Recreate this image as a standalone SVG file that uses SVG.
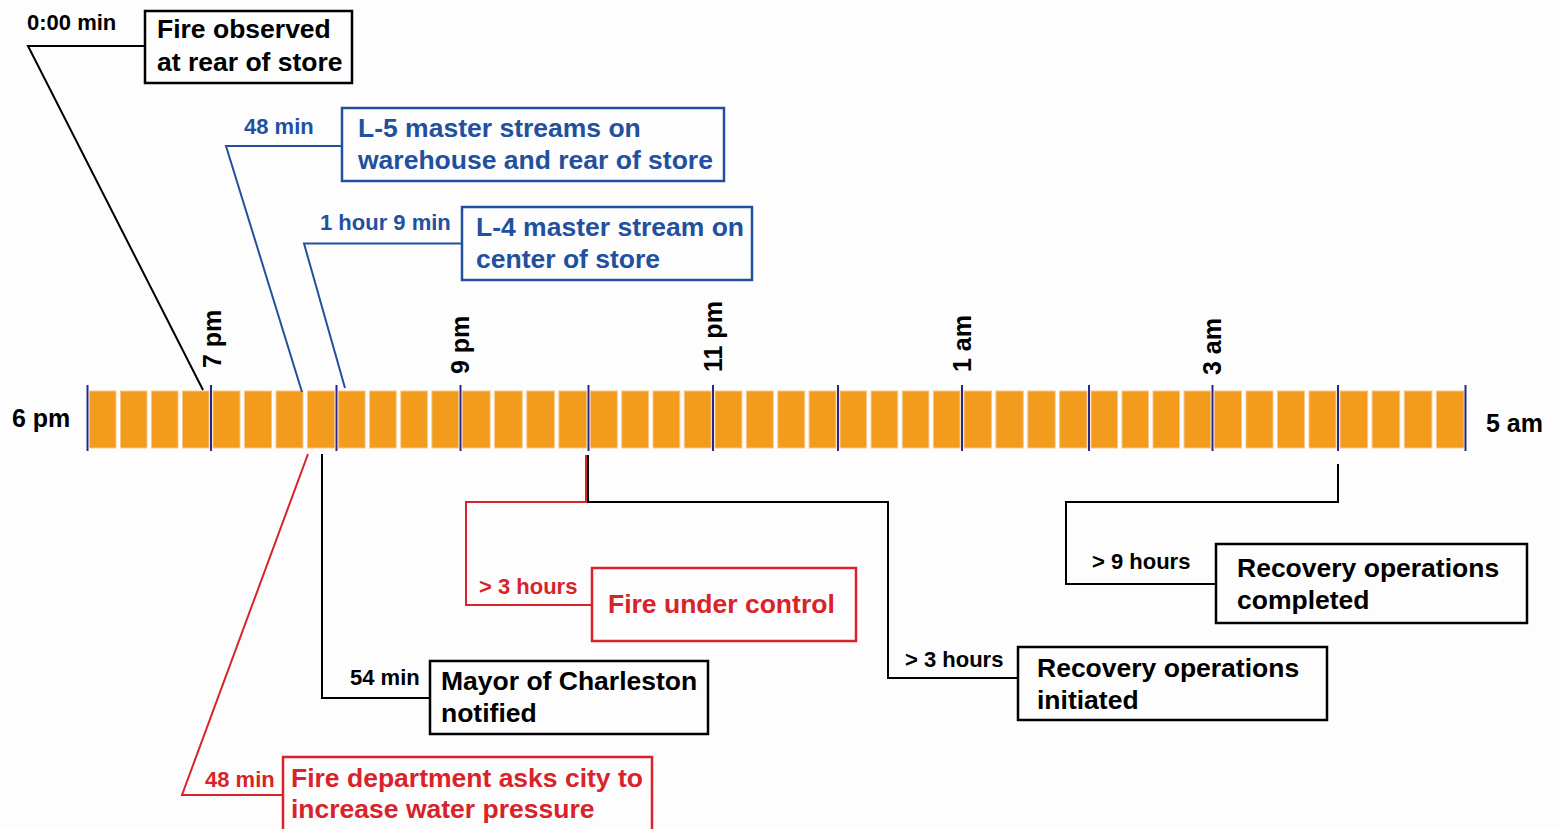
<svg xmlns="http://www.w3.org/2000/svg" width="1560" height="829" viewBox="0 0 1560 829">
<style>
.blk{fill:#f29b1c;stroke:#f7c78a;stroke-width:1}
.tick{stroke:#23288a;stroke-width:2}
.t{font-family:"Liberation Sans",Arial,sans-serif;font-weight:bold}
.big{font-size:26.5px}
.sm{font-size:22px}
.ax{font-size:25px;fill:#000}
.k{fill:#000}
.b{fill:#22509f}
.r{fill:#d8232a}
.boxk{fill:none;stroke:#000;stroke-width:2.5}
.boxb{fill:none;stroke:#22509f;stroke-width:2.5}
.boxr{fill:none;stroke:#d8232a;stroke-width:2.5}
.lk{fill:none;stroke:#000;stroke-width:2}
.lb{fill:none;stroke:#22509f;stroke-width:2}
.lr{fill:none;stroke:#d8232a;stroke-width:2}
</style>
<rect width="1560" height="829" fill="#fdfdfd"/>
<g id="timeline">
<rect class="blk" x="89.5" y="391" width="26.5" height="57"/><rect class="blk" x="120.5" y="391" width="26.5" height="57"/><rect class="blk" x="151.5" y="391" width="26.5" height="57"/><rect class="blk" x="182.5" y="391" width="26.5" height="57"/>
<rect class="blk" x="213" y="391" width="27" height="57"/><rect class="blk" x="244.5" y="391" width="27" height="57"/><rect class="blk" x="276" y="391" width="27" height="57"/><rect class="blk" x="307.5" y="391" width="27" height="57"/>
<rect class="blk" x="338.5" y="391" width="26.6" height="57"/><rect class="blk" x="369.6" y="391" width="26.6" height="57"/><rect class="blk" x="400.8" y="391" width="26.6" height="57"/><rect class="blk" x="431.9" y="391" width="26.6" height="57"/>
<rect class="blk" x="462.5" y="391" width="27.6" height="57"/><rect class="blk" x="494.6" y="391" width="27.6" height="57"/><rect class="blk" x="526.8" y="391" width="27.6" height="57"/><rect class="blk" x="558.9" y="391" width="27.6" height="57"/>
<rect class="blk" x="590.5" y="391" width="26.8" height="57"/><rect class="blk" x="621.8" y="391" width="26.8" height="57"/><rect class="blk" x="653" y="391" width="26.8" height="57"/><rect class="blk" x="684.3" y="391" width="26.8" height="57"/>
<rect class="blk" x="715" y="391" width="26.9" height="57"/><rect class="blk" x="746.4" y="391" width="26.9" height="57"/><rect class="blk" x="777.8" y="391" width="26.9" height="57"/><rect class="blk" x="809.1" y="391" width="26.9" height="57"/>
<rect class="blk" x="840" y="391" width="26.6" height="57"/><rect class="blk" x="871.1" y="391" width="26.6" height="57"/><rect class="blk" x="902.3" y="391" width="26.6" height="57"/><rect class="blk" x="933.4" y="391" width="26.6" height="57"/>
<rect class="blk" x="964" y="391" width="27.4" height="57"/><rect class="blk" x="995.9" y="391" width="27.4" height="57"/><rect class="blk" x="1027.8" y="391" width="27.4" height="57"/><rect class="blk" x="1059.6" y="391" width="27.4" height="57"/>
<rect class="blk" x="1091" y="391" width="26.5" height="57"/><rect class="blk" x="1122" y="391" width="26.5" height="57"/><rect class="blk" x="1153" y="391" width="26.5" height="57"/><rect class="blk" x="1184" y="391" width="26.5" height="57"/>
<rect class="blk" x="1214.5" y="391" width="27" height="57"/><rect class="blk" x="1246" y="391" width="27" height="57"/><rect class="blk" x="1277.5" y="391" width="27" height="57"/><rect class="blk" x="1309" y="391" width="27" height="57"/>
<rect class="blk" x="1340" y="391" width="27.6" height="57"/><rect class="blk" x="1372.1" y="391" width="27.6" height="57"/><rect class="blk" x="1404.3" y="391" width="27.6" height="57"/><rect class="blk" x="1436.4" y="391" width="27.6" height="57"/>
<g class="tick">
<line x1="87.5" y1="385" x2="87.5" y2="451"/><line x1="211" y1="385" x2="211" y2="451"/><line x1="336.5" y1="385" x2="336.5" y2="451"/><line x1="460.5" y1="385" x2="460.5" y2="451"/><line x1="588.5" y1="385" x2="588.5" y2="451"/><line x1="713" y1="385" x2="713" y2="451"/><line x1="838" y1="385" x2="838" y2="451"/><line x1="962" y1="385" x2="962" y2="451"/><line x1="1089" y1="385" x2="1089" y2="451"/><line x1="1212.5" y1="385" x2="1212.5" y2="451"/><line x1="1338" y1="385" x2="1338" y2="451"/><line x1="1465.5" y1="385" x2="1465.5" y2="451"/>
</g>
<text class="t ax" x="12" y="427">6 pm</text>
<text class="t ax" x="1486" y="432">5 am</text>
<text class="t ax" transform="translate(220.5,368) rotate(-90)">7 pm</text>
<text class="t ax" transform="translate(469,374) rotate(-90)">9 pm</text>
<text class="t ax" transform="translate(722,372) rotate(-90)">11 pm</text>
<text class="t ax" transform="translate(971,372) rotate(-90)">1 am</text>
<text class="t ax" transform="translate(1221,375) rotate(-90)">3 am</text>
</g>
<g id="connectors">
<polyline class="lk" points="203,390 28,46 145,46"/>
<polyline class="lb" points="302,392 226,146 342,146"/>
<polyline class="lb" points="345,388 304,243.5 462,243.5"/>
<polyline class="lr" points="308,454 182,795 283,795"/>
<polyline class="lk" points="322,454 322,698 430,698"/>
<polyline class="lk" points="588,455 588,502 888,502 888,678 1018,678"/>
<polyline class="lr" points="586,455 586,502 466,502 466,605 592,605"/>
<polyline class="lk" points="1338,464 1338,502 1066,502 1066,584 1215,584"/>
</g>
<g id="n-fire-observed">
<rect class="boxk" x="145" y="11" width="207" height="72"/>
<text class="t sm k" x="27" y="30">0:00 min</text>
<text class="t big k" x="157" y="38">Fire observed</text>
<text class="t big k" x="157" y="71">at rear of store</text>
</g>
<g id="n-l5">
<rect class="boxb" x="342" y="108" width="382" height="73"/>
<text class="t sm b" x="244" y="134">48 min</text>
<text class="t big b" x="358" y="137">L-5 master streams on</text>
<text class="t big b" x="358" y="169">warehouse and rear of store</text>
</g>
<g id="n-l4">
<rect class="boxb" x="462" y="207" width="290" height="73"/>
<text class="t sm b" x="320" y="230">1 hour 9 min</text>
<text class="t big b" x="476" y="236">L-4 master stream on</text>
<text class="t big b" x="476" y="268">center of store</text>
</g>
<g id="n-fire-control">
<rect class="boxr" x="592" y="568" width="264" height="73"/>
<text class="t sm r" x="479" y="594">&gt; 3 hours</text>
<text class="t big r" x="608" y="613">Fire under control</text>
</g>
<g id="n-recovery-completed">
<rect class="boxk" x="1216" y="544" width="311" height="79"/>
<text class="t sm k" x="1092" y="569">&gt; 9 hours</text>
<text class="t big k" x="1237" y="577">Recovery operations</text>
<text class="t big k" x="1237" y="609">completed</text>
</g>
<g id="n-recovery-initiated">
<rect class="boxk" x="1018" y="647" width="309" height="73"/>
<text class="t sm k" x="905" y="667">&gt; 3 hours</text>
<text class="t big k" x="1037" y="677">Recovery operations</text>
<text class="t big k" x="1037" y="709">initiated</text>
</g>
<g id="n-mayor">
<rect class="boxk" x="430" y="661" width="278" height="73"/>
<text class="t sm k" x="350" y="685">54 min</text>
<text class="t big k" x="441" y="690">Mayor of Charleston</text>
<text class="t big k" x="441" y="722">notified</text>
</g>
<g id="n-water-pressure">
<rect class="boxr" x="283" y="757" width="369" height="80"/>
<text class="t sm r" x="205" y="787">48 min</text>
<text class="t big r" x="291" y="787">Fire department asks city to</text>
<text class="t big r" x="291" y="818">increase water pressure</text>
</g>
</svg>
